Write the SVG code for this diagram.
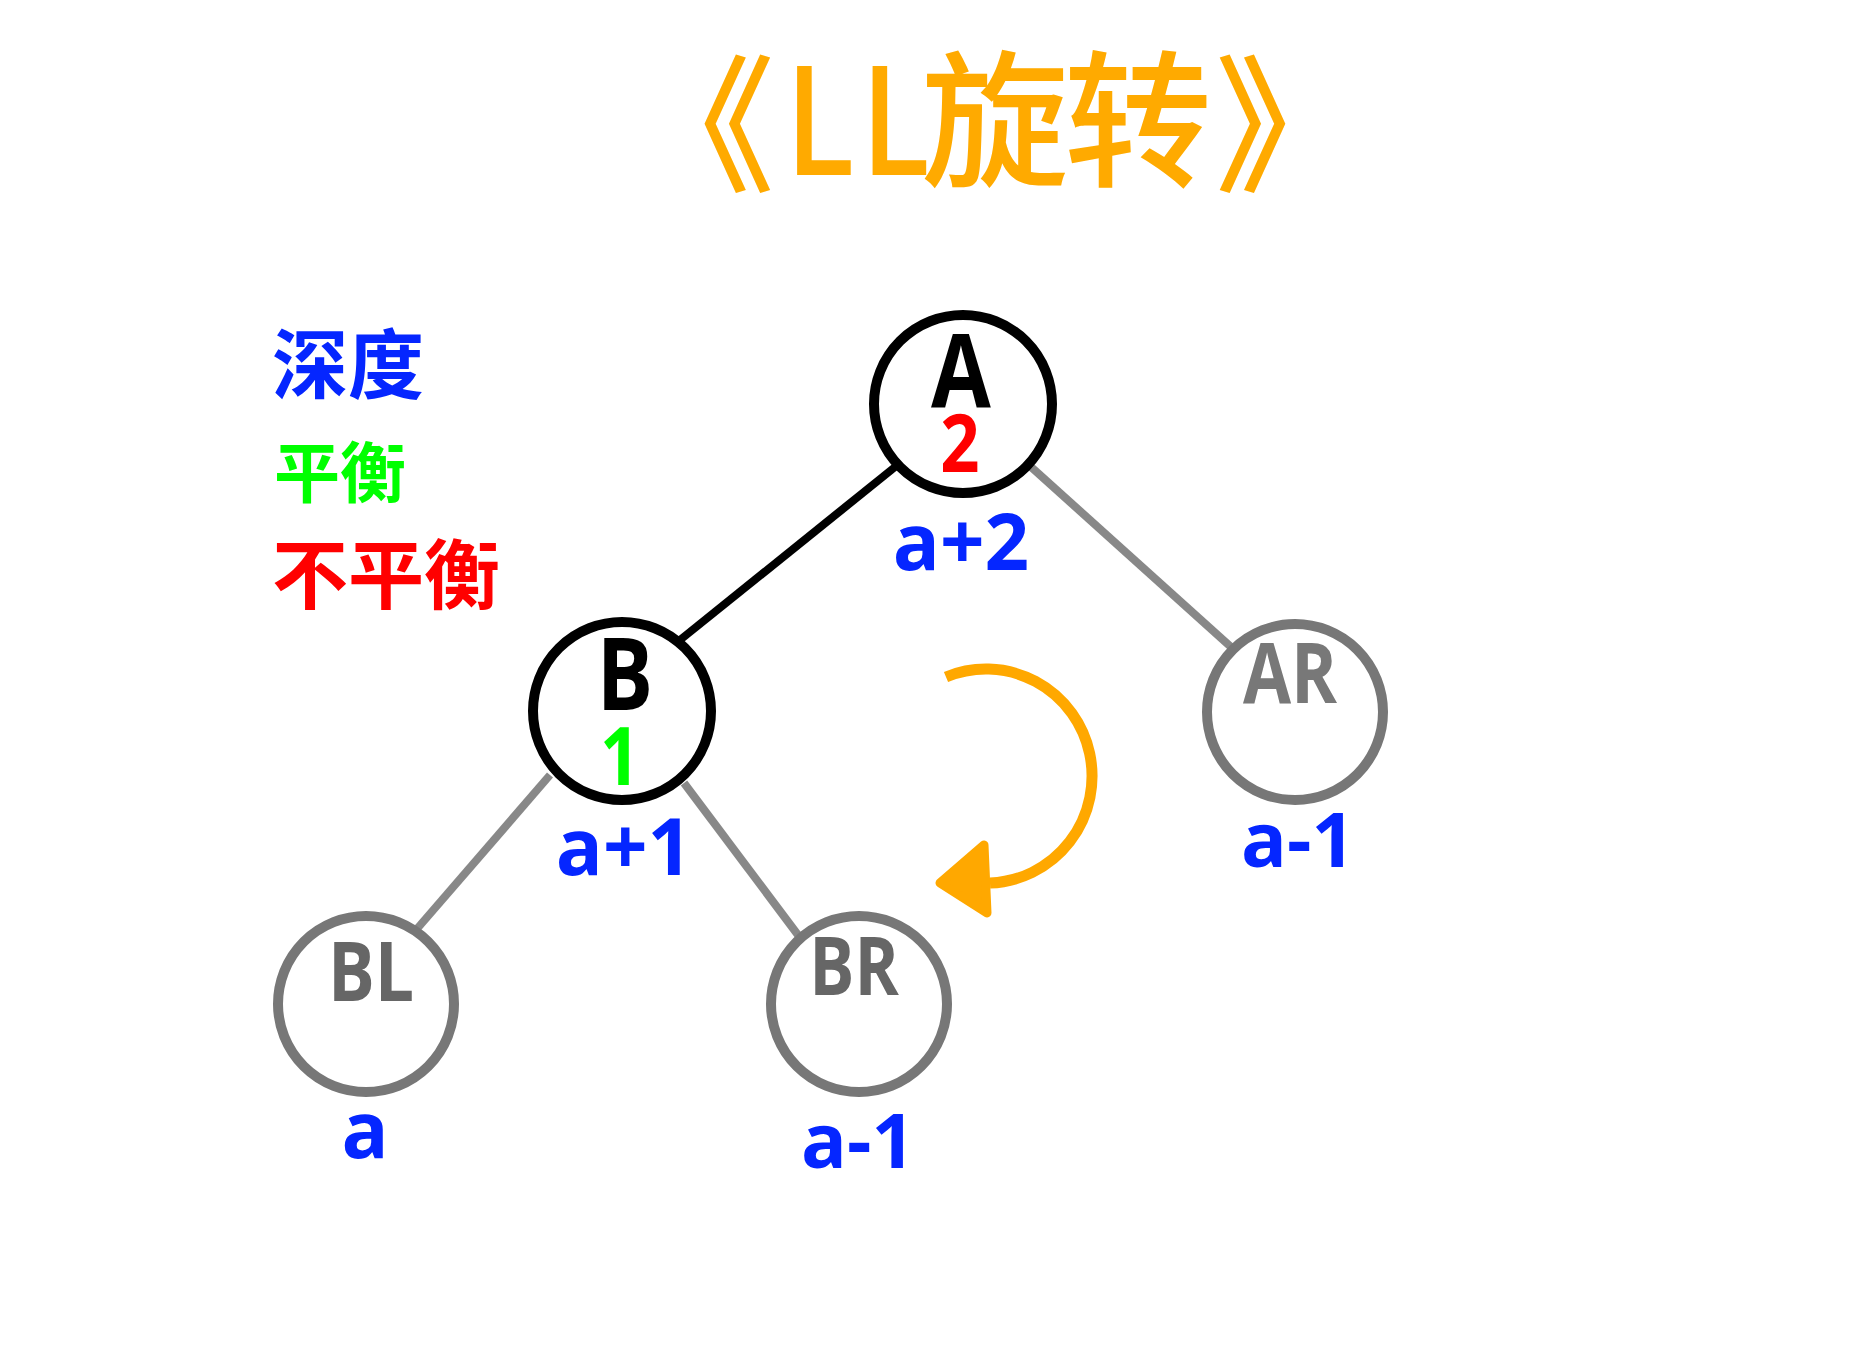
<svg xmlns="http://www.w3.org/2000/svg" width="1874" height="1356" viewBox="0 0 1874 1356">
<style>
.cjk{font-family:"Noto Sans CJK SC","Noto Sans",sans-serif;font-weight:700}
.ttl{font-family:"Noto Sans CJK SC","Noto Sans",sans-serif;font-weight:500;font-size:148px;fill:#ffaa00;text-anchor:middle}
.lbl{font-family:"Open Sans","Noto Sans",sans-serif;font-weight:700;text-anchor:middle}
.dep{fill:#0526ff}
.main{fill:#fff;stroke:#000;stroke-width:10}
.sub{fill:#fff;stroke:#777;stroke-width:10}
.gl{stroke:#888;stroke-width:8;stroke-linecap:butt}
</style>
<rect width="1874" height="1356" fill="#fff"/>
<g id="title">
<text class="ttl" transform="translate(701,180)" font-size="145">《</text>
<text class="ttl" transform="translate(820,175) scale(0.845,1)">L</text>
<text class="ttl" transform="translate(895.5,175) scale(0.845,1)">L</text>
<text class="ttl" transform="translate(995,175)">旋</text>
<text class="ttl" transform="translate(1138,175)">转</text>
<text class="ttl" transform="translate(1289,180)" font-size="145">》</text>
</g>
<g id="legend" class="cjk">
<text x="272" y="393" font-size="76" fill="#0526ff">深度</text>
<text x="274" y="497" font-size="66" fill="#00ff00">平衡</text>
<text x="272" y="603" font-size="76" fill="#ff0000">不平衡</text>
</g>
<g id="connectors">
<line x1="895" y1="467" x2="680" y2="640" stroke="#000" stroke-width="8"/>
<line class="gl" x1="1030" y1="466" x2="1231" y2="647"/>
<line class="gl" x1="550" y1="775" x2="416" y2="930"/>
<line class="gl" x1="684" y1="783" x2="798" y2="935"/>
</g>
<g id="node-A">
<circle class="main" cx="963" cy="404" r="89"/>
<text class="lbl" transform="translate(961,407) scale(0.85,1)" font-size="102">A</text>
<text class="lbl" transform="translate(960,472) scale(0.86,1)" font-size="80" fill="#ff0000">2</text>
<text class="lbl dep" x="961" y="570" font-size="78">a+2</text>
</g>
<g id="node-B">
<circle class="main" cx="622" cy="711" r="89"/>
<text class="lbl" transform="translate(625,710) scale(0.84,1)" font-size="100">B</text>
<text class="lbl" transform="translate(620,785) scale(0.86,1)" font-size="81" fill="#00ff00">1</text>
<text class="lbl dep" x="624" y="875" font-size="78">a+1</text>
</g>
<g id="node-AR">
<circle class="sub" cx="1295" cy="712" r="88"/>
<text class="lbl" transform="translate(1290,703) scale(0.83,1)" font-size="84" fill="#787878">AR</text>
<text class="lbl dep" x="1298" y="867" font-size="76">a-1</text>
</g>
<g id="node-BL">
<circle class="sub" cx="366" cy="1004" r="88"/>
<text class="lbl" transform="translate(371,1001) scale(0.84,1)" font-size="83" fill="#666">BL</text>
<text class="lbl dep" x="365" y="1158" font-size="78">a</text>
</g>
<g id="node-BR">
<circle class="sub" cx="859" cy="1004" r="88"/>
<text class="lbl" transform="translate(854,995) scale(0.83,1)" font-size="81" fill="#666">BR</text>
<text class="lbl dep" x="858" y="1168" font-size="76">a-1</text>
</g>
<g id="rotation-arrow">
<path d="M 946 677 A 106 107 0 1 1 990 883" fill="none" stroke="#ffa800" stroke-width="11"/>
<polygon points="940,883 984,845 987,913" fill="#ffa800" stroke="#ffa800" stroke-width="9" stroke-linejoin="round"/>
</g>
</svg>
